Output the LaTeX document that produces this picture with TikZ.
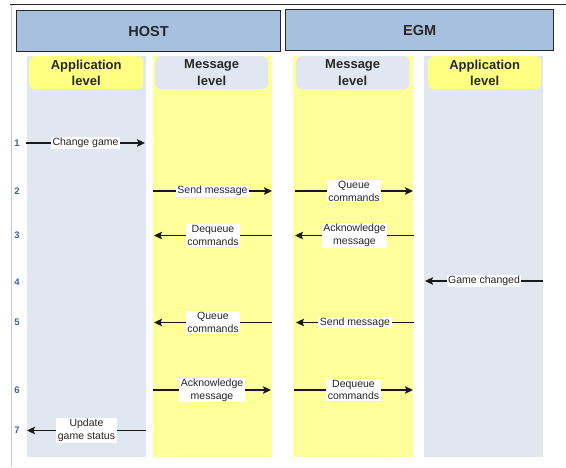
\documentclass[tikz,border=0pt]{standalone}
\usepackage{fontspec}
\setmainfont{Liberation Sans}
\usetikzlibrary{arrows.meta}

\definecolor{hdrblue}{RGB}{167,192,222}
\definecolor{lanegray}{RGB}{225,231,241}
\definecolor{laneyellow}{RGB}{255,255,153}
\definecolor{tagyellow}{RGB}{255,255,130}
\definecolor{tagtext}{RGB}{40,40,40}
\definecolor{stepblue}{RGB}{55,100,165}
\definecolor{rulegray}{RGB}{205,205,205}

\begin{document}
\begin{tikzpicture}[x=1pt,y=-1pt,
  party/.style={draw=black!85, line width=1.2pt, fill=hdrblue, anchor=north west,
    minimum height=41pt, inner sep=0pt, font=\fontsize{14.5}{16}\selectfont\bfseries,
    text=tagtext},
  lane/.style={anchor=north west, minimum height=401pt, inner sep=0pt, draw=none},
  lanetag/.style={anchor=north west, minimum width=113pt, minimum height=33pt,
    inner sep=0pt, rounded corners=6pt, align=center, text=tagtext,
    font=\fontsize{13}{16.5}\selectfont\bfseries},
  stepno/.style={text=stepblue, font=\fontsize{9.5}{11}\selectfont\bfseries, inner sep=0pt},
  msg/.style={line width=1.4pt, black!90, -{Stealth[length=8pt,width=7.5pt,inset=1.5pt]}},
  lbl/.style={fill=white, inner xsep=1.5pt, inner ysep=1pt, align=center,
    text=black!85, font=\fontsize{10.5}{12.8}\selectfont},
]
\useasboundingbox (0,0) rectangle (566,467);

% frame rules
\coordinate (topL) at (10,4.5);
\coordinate (topR) at (566,4.5);
\coordinate (sideT) at (11,5);
\coordinate (sideB) at (11,467);
\draw[line width=1pt, black!85] (topL) -- (topR);
\draw[line width=0.8pt, rulegray] (sideT) -- (sideB);

% party headers
\node[party, minimum width=264pt] (host) at (16,10) {HOST};
\node[party, minimum width=268pt] (egm) at (285,9) {EGM};

% lanes
\node[lane, fill=lanegray, minimum width=119pt] (lane1) at (27,56) {};
\node[lane, fill=laneyellow, minimum width=119pt] (lane2) at (153,56) {};
\node[lane, fill=laneyellow, minimum width=120pt] (lane3) at (293,56) {};
\node[lane, fill=lanegray, minimum width=119pt] (lane4) at (424,56) {};

% lane titles
\node[lanetag, fill=tagyellow, minimum width=114pt] (tag1) at (29,56) {Application\\level};
\node[lanetag, fill=lanegray] (tag2) at (155,56) {Message\\level};
\node[lanetag, fill=lanegray] (tag3) at (296,56) {Message\\level};
\node[lanetag, fill=tagyellow] (tag4) at (428,56) {Application\\level};

% step numbers
\node[stepno] (n1) at (17,143) {1};
\node[stepno] (n2) at (17,191) {2};
\node[stepno] (n3) at (17,235.5) {3};
\node[stepno] (n4) at (17,282) {4};
\node[stepno] (n5) at (17,322.5) {5};
\node[stepno] (n6) at (17,390) {6};
\node[stepno] (n7) at (17,430.5) {7};

% message end points
\coordinate (a1) at (26,143);    \coordinate (b1) at (145,143);
\coordinate (a2) at (153,191);   \coordinate (b2) at (272,191);
\coordinate (c2) at (295,191);   \coordinate (d2) at (413,191);
\coordinate (a3) at (272,235.5); \coordinate (b3) at (154,235.5);
\coordinate (c3) at (414,235.5); \coordinate (d3) at (295,235.5);
\coordinate (a4) at (543,281);   \coordinate (b4) at (425,281);
\coordinate (a5) at (272,322.5); \coordinate (b5) at (154,322.5);
\coordinate (c5) at (414,322.5); \coordinate (d5) at (296,322.5);
\coordinate (a6) at (153,390);   \coordinate (b6) at (271,390);
\coordinate (c6) at (294,390);   \coordinate (d6) at (413,390);
\coordinate (a7) at (146,430.5); \coordinate (b7) at (27,430.5);

% messages
\draw[msg] (a1) -- node[lbl] (m1) {Change game} (b1);
\draw[msg] (a2) -- node[lbl] (m2) {Send message} (b2);
\draw[msg] (c2) -- node[lbl] (m2e) {Queue\\commands} (d2);
\draw[msg] (a3) -- node[lbl] (m3) {Dequeue\\commands} (b3);
\draw[msg] (c3) -- node[lbl] (m3e) {Acknowledge\\message} (d3);
\draw[msg] (a4) -- node[lbl] (m4) {Game changed} (b4);
\draw[msg] (a5) -- node[lbl] (m5) {Queue\\commands} (b5);
\draw[msg] (c5) -- node[lbl] (m5e) {Send message} (d5);
\draw[msg] (a6) -- node[lbl] (m6) {Acknowledge\\message} (b6);
\draw[msg] (c6) -- node[lbl] (m6e) {Dequeue\\commands} (d6);
\draw[msg] (a7) -- node[lbl] (m7) {Update\\game status} (b7);

\end{tikzpicture}
\end{document}
